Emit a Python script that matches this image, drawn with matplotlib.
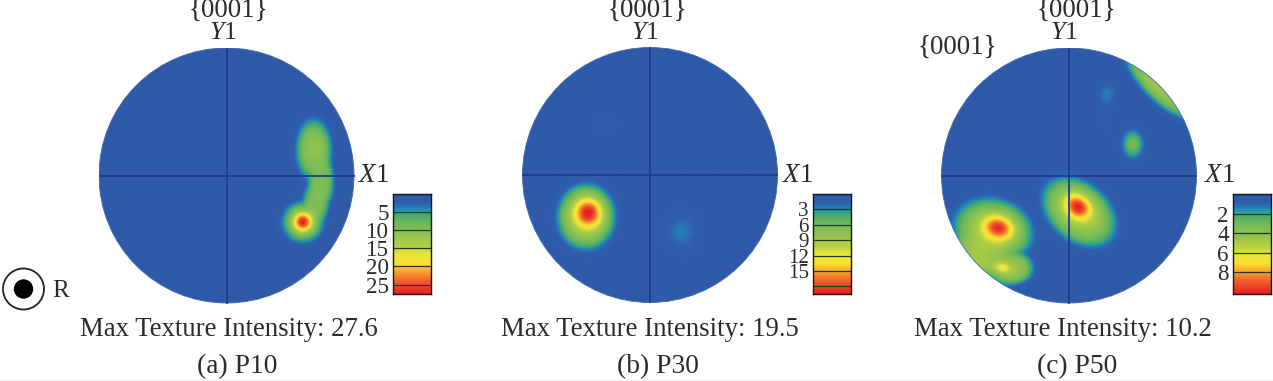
import numpy as np
import matplotlib
matplotlib.use("Agg")
import matplotlib.pyplot as plt
from matplotlib.colors import LinearSegmentedColormap
from matplotlib.patches import Circle

plt.rcParams['font.family'] = ['Liberation Serif', 'DejaVu Serif']
plt.rcParams['mathtext.fontset'] = 'custom'
plt.rcParams['mathtext.it'] = 'Liberation Serif:italic'
plt.rcParams['mathtext.rm'] = 'Liberation Serif'

W, H = 1273, 381
INK = '#2b2b2b'

# Pole-figure peaks:
# dx, dy (px from centre, y up), sx, sy (px), tilt (deg), intensity, flatness
# flatness 1 = round peak, added on top; flatness > 1 = plateau, blended with other plateaus
peaks_a = [(87, 25, 15, 26, 0, 9.4, 1.8), (88, 27, 8, 10, 0, 1.8, 1.0),
           (94, -6, 11, 24, 0, 9.4, 1.8), (89, -28, 11, 18, 0, 9.0, 1.8),
           (76, -47, 18, 18, 0, 8.0, 1.8), (76, -47, 6.8, 6.8, 0, 19.5, 1.0),
           (20, 30, 12, 12, 0, 0.5, 1.0), (-45, -35, 14, 14, 0, 0.4, 1.0)]
peaks_b = [(-64, -42, 23, 26, 0, 9.0, 1.8), (-62, -38, 9, 9.5, 0, 11.0, 1.0),
           (32, -57, 13, 15, 0, 2.7, 1.0), (-45, 50, 10, 8, 0, 1.6, 1.0)]
peaks_c = [(-71, -53, 10.5, 8, -15, 5.6, 1.0), (-76, -55, 32, 25, -15, 4.4, 1.8),
           (-95, -82, 18, 30, 0, 4.2, 1.8), (-82, -78, 22, 22, 0, 4.2, 1.8),
           (-59, -93, 19, 14, 0, 4.2, 1.8), (-67, -93, 7, 4, -10, 2.2, 1.0),
           (9, -32, 9.5, 7.5, -40, 5.6, 1.0), (10, -37, 33, 23, -40, 4.6, 1.8),
           (93, 93, 38, 15, -45, 4.6, 1.8),
           (64, 31, 7.5, 10, 0, 3.2, 1.0), (39, 82, 8, 8, 0, 1.3, 1.0), (36, 60, 6, 14, 0, 0.6, 1.0)]

max_a, max_b, max_c = 27.6, 19.5, 10.2
ticks_a, ticks_b, ticks_c = [5, 10, 15, 20, 25], [3, 6, 9, 12, 15], [2, 4, 6, 8]
lines_b = [3, 6, 9, 12, 15, 18]

centers = [(226.5, 175.5), (650, 175), (1069, 175.5)]
bars = [(393, 431), (813, 851), (1233, 1271)]
max_labels = ['Max Texture Intensity: 27.6', 'Max Texture Intensity: 19.5', 'Max Texture Intensity: 10.2']
max_x = [229, 650, 1063]
captions = ['(a) P10', '(b) P30', '(c) P50']
cap_x = [237, 658, 1077]
head_x = [228, 647, 1076]
y1_x = [223, 645, 1064]
x1_x = [358, 782, 1204]

cmap = LinearSegmentedColormap.from_list('pf', [
    (0.00, '#2f5aa9'), (0.085, '#2f5fad'), (0.13, '#2a78b8'), (0.165, '#1f98b0'),
    (0.20, '#43a86c'), (0.28, '#6cb85c'), (0.42, '#96c44e'), (0.52, '#b4d045'),
    (0.60, '#ece53c'), (0.70, '#fbdf2e'), (0.78, '#f7a030'), (0.88, '#f05a2c'), (1.0, '#e6201f')])

fig = plt.figure(figsize=(W / 100, H / 100), dpi=100, facecolor='white')
bg = fig.add_axes([0, 0, 1, 1])
bg.set_xlim(0, W)
bg.set_ylim(H, 0)
bg.axis('off')

R = 128
gx, gy = np.meshgrid(np.linspace(-R, R, 520), np.linspace(-R, R, 520))


def field(peaks):
    plateau = np.zeros_like(gx)
    rounded = np.zeros_like(gx)
    for dx, dy, sx, sy, tilt, amp, flat in peaks:
        t = np.deg2rad(tilt)
        u = (gx - dx) * np.cos(t) + (gy - dy) * np.sin(t)
        v = -(gx - dx) * np.sin(t) + (gy - dy) * np.cos(t)
        part = amp * np.exp(-0.5 * ((u / sx) ** 2 + (v / sy) ** 2) ** flat)
        if flat > 1:
            plateau += part ** 5
        else:
            rounded += part
    return plateau ** 0.2 + rounded


def txt(x, y, s, size, **kw):
    kw.setdefault('ha', 'center')
    bg.text(x, y, s, fontsize=size * 0.72, color=INK, va='center', **kw)


for i, (peaks, vmax, ticks) in enumerate(zip((peaks_a, peaks_b, peaks_c),
                                             (max_a, max_b, max_c),
                                             (ticks_a, ticks_b, ticks_c))):
    cx, cy = centers[i]
    ax = fig.add_axes([(cx - R) / W, 1 - (cy + R) / H, 2 * R / W, 2 * R / H])
    im = ax.imshow(field(peaks), origin='lower', extent=(-R, R, -R, R), cmap=cmap,
                   vmin=0, vmax=vmax, interpolation='bilinear')
    clip = Circle((0, 0), R - 0.5, transform=ax.transData)
    im.set_clip_path(clip)
    ax.plot([-R, R], [0, 0], color='#1c3a8e', lw=1.25)
    ax.plot([0, 0], [-R, R], color='#1c3a8e', lw=1.25)
    ax.add_patch(Circle((0, 0), R - 0.5, fill=False, ec='#3d6ab0', lw=0.6))
    ax.set_xlim(-R, R)
    ax.set_ylim(-R, R)
    ax.axis('off')

    x0, x1 = bars[i]
    cb = fig.add_axes([x0 / W, 1 - 294 / H, (x1 - x0) / W, 100 / H])
    cb.imshow(np.linspace(0, 1, 256)[:, None], aspect='auto', cmap=cmap, vmin=0, vmax=1,
              extent=(0, 1, vmax, 0))
    drawn = lines_b if i == 1 else ticks
    for t in drawn:
        cb.axhline(t, color='#1d3b30', lw=0.9)
    cb.set_xticks([])
    cb.set_yticks(ticks)
    cb.set_yticklabels([str(t) for t in ticks], fontsize=(21 if i == 1 else 23) * 0.72, color=INK)
    cb.tick_params(axis='y', length=0, pad=3)
    for sp in cb.spines.values():
        sp.set_color('#15151f')
        sp.set_linewidth(1.0)

    txt(head_x[i], 10, '{0001}', 27)
    txt(y1_x[i], 33, r'$\mathit{Y}$1', 26)
    txt(x1_x[i], 176, r'$\mathit{X}$1', 27, ha='left')
    txt(max_x[i], 329, max_labels[i], 26.8)
    txt(cap_x[i], 367, captions[i], 27.5)

txt(957, 47, '{0001}', 27)
bg.add_patch(Circle((23.5, 289), 20.5, fill=False, ec='#222222', lw=1.3))
bg.add_patch(Circle((23.5, 289), 9.7, fc='black', ec='none'))
txt(52, 291, 'R', 25, ha='left')
bg.axhline(380, color='#ececec', lw=1)

fig.savefig('out.png', dpi=100, facecolor='white')
